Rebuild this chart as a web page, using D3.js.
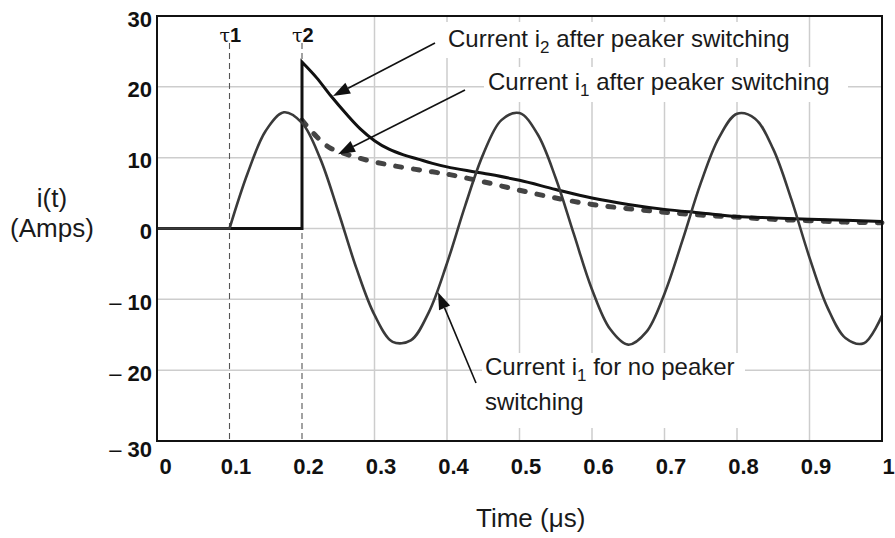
<!DOCTYPE html>
<html>
<head>
<meta charset="utf-8">
<script src="https://cdn.jsdelivr.net/npm/d3@7"></script>
<style>
  html, body { margin: 0; padding: 0; background: #fff; }
  svg { display: block; }
</style>
</head>
<body>
<svg id="chart" width="895" height="538"></svg>
<script>
// axis ticks
const timeTicks = [0, 0.1, 0.2, 0.3, 0.4, 0.5, 0.6, 0.7, 0.8, 0.9, 1];
const currentTicks = [-30, -20, -10, 0, 10, 20, 30];

// switching instants
const tauTimes = [0.1, 0.2];
const tauNames = ["1", "2"];

// i1 with no peaker switching
const tNoPeaker = [0, 0.1, 0.1, 0.125, 0.15, 0.175, 0.2, 0.225, 0.25, 0.275, 0.3, 0.325, 0.35, 0.375,
  0.4, 0.425, 0.45, 0.475, 0.5, 0.525, 0.55, 0.575, 0.6, 0.625, 0.65, 0.675, 0.7, 0.725, 0.75,
  0.775, 0.8, 0.825, 0.85, 0.875, 0.9, 0.925, 0.95, 0.975, 1];
const iNoPeaker = [0, 0, 0, 7.8, 13.8, 16.4, 14.9, 9.9, 2.4, -5.6, -12.2, -16.0, -15.8, -11.8,
  -4.9, 3.2, 10.5, 15.3, 16.3, 13.3, 7.1, -0.8, -8.6, -14.2, -16.4, -14.6, -9.2, -1.6, 6.4,
  12.8, 16.2, 15.5, 11.2, 4.1, -4.1, -11.2, -15.5, -16.2, -12.3];

// i2 after peaker switching
const tI2 = [0, 0.2, 0.2, 0.22, 0.24, 0.26, 0.28, 0.3, 0.32, 0.34, 0.36, 0.38, 0.4, 0.45, 0.5,
  0.55, 0.6, 0.65, 0.7, 0.75, 0.8, 0.85, 0.9, 0.95, 1];
const iI2 = [0, 0, 23.5, 21.3, 18.7, 16.3, 14.1, 12.4, 11.2, 10.4, 9.8, 9.2, 8.7, 7.8, 6.8,
  5.5, 4.3, 3.4, 2.7, 2.2, 1.7, 1.5, 1.3, 1.15, 1.0];

// i1 after peaker switching
const tI1 = [0.2, 0.21, 0.22, 0.23, 0.24, 0.25, 0.27, 0.3, 0.335, 0.38, 0.404, 0.45, 0.5, 0.55,
  0.6, 0.65, 0.7, 0.75, 0.8, 0.85, 0.9, 0.95, 1];
const iI1 = [15.3, 14.1, 13.0, 12.0, 11.3, 10.9, 10.2, 9.4, 8.7, 8.0, 7.6, 6.6, 5.4, 4.3,
  3.4, 2.8, 2.3, 1.9, 1.6, 1.3, 1.1, 0.9, 0.8];

const FONT = "'Liberation Sans', Arial, Helvetica, sans-serif";

const svg = d3.select("#chart");
const x = d3.scaleLinear().domain([0, 1]).range([157, 882]);
const y = d3.scaleLinear().domain([-30, 30]).range([441, 16]);

// grid (the tau instants get dashed lines instead)
svg.append("g")
    .selectAll("line")
    .data(timeTicks.filter(t => t > 0 && t < 1 && !tauTimes.includes(t)))
    .join("line")
    .attr("x1", d => x(d)).attr("x2", d => x(d))
    .attr("y1", y(30)).attr("y2", y(-30))
    .attr("stroke", "#cdcdcd").attr("stroke-width", 1.5);

svg.append("g")
    .selectAll("line")
    .data(currentTicks.filter(v => v > -30 && v < 30))
    .join("line")
    .attr("x1", x(0)).attr("x2", x(1))
    .attr("y1", d => y(d)).attr("y2", d => y(d))
    .attr("stroke", "#cdcdcd").attr("stroke-width", 1.5);

// tau markers
svg.append("g")
    .selectAll("line")
    .data(tauTimes)
    .join("line")
    .attr("x1", d => x(d)).attr("x2", d => x(d))
    .attr("y1", 43).attr("y2", y(-30))
    .attr("stroke", "#555").attr("stroke-width", 1.1)
    .attr("stroke-dasharray", "6,4");

const tauText = svg.append("g")
    .selectAll("text")
    .data(tauTimes)
    .join("text")
    .attr("x", d => x(d) - 10)
    .attr("y", 42)
    .attr("fill", "#111");
tauText.append("tspan")
    .attr("font-family", "'DejaVu Serif', 'Liberation Serif', serif")
    .attr("font-size", 19)
    .text("\u03c4");
tauText.append("tspan")
    .attr("font-family", FONT)
    .attr("font-weight", "bold")
    .attr("font-size", 20)
    .text((d, k) => tauNames[k]);

// white boxes behind the annotations
const boxes = [[444, 22, 353, 36], [484, 67, 364, 35], [482, 353, 263, 75]];
svg.append("g")
    .selectAll("rect")
    .data(boxes)
    .join("rect")
    .attr("x", d => d[0]).attr("y", d => d[1])
    .attr("width", d => d[2]).attr("height", d => d[3])
    .attr("fill", "#fff");

// curves
const line = d3.line()
    .x(d => x(d[0]))
    .y(d => y(d[1]))
    .curve(d3.curveCatmullRom.alpha(0.5));

// split at repeated times so the jumps stay straight
const seriesPath = pts => {
    const runs = [[pts[0]]];
    for (let k = 1; k < pts.length; k++) {
        if (pts[k][0] === pts[k - 1][0]) runs.push([]);
        runs[runs.length - 1].push(pts[k]);
    }
    return runs.map((r, k) => {
        const d = line(r);
        return k ? "L" + d.slice(1) : d;
    }).join("");
};
const toPoints = (ts, vs) => ts.map((t, k) => [t, vs[k]]);

svg.append("path")
    .attr("d", seriesPath(toPoints(tI1, iI1)))
    .attr("fill", "none")
    .attr("stroke", "#444")
    .attr("stroke-width", 5)
    .attr("stroke-linecap", "round")
    .attr("stroke-dasharray", "6,12");

svg.append("path")
    .attr("d", seriesPath(toPoints(tI2, iI2)))
    .attr("fill", "none")
    .attr("stroke", "#111")
    .attr("stroke-width", 3);

svg.append("path")
    .attr("d", seriesPath(toPoints(tNoPeaker, iNoPeaker)))
    .attr("fill", "none")
    .attr("stroke", "#3a3a3a")
    .attr("stroke-width", 2.6);

// frame
svg.append("rect")
    .attr("x", x(0)).attr("y", y(30))
    .attr("width", x(1) - x(0)).attr("height", y(-30) - y(30))
    .attr("fill", "none")
    .attr("stroke", "#111")
    .attr("stroke-width", 2);

// axes
const xAxis = svg.append("g")
    .attr("transform", `translate(0,${y(-30)})`)
    .call(d3.axisBottom(x).tickValues(timeTicks).tickSize(0).tickFormat(d => String(d)));
xAxis.select(".domain").remove();
xAxis.selectAll("text")
    .attr("y", 33).attr("dy", null)
    .attr("dx", d => d === 0 ? 8 : 6)
    .attr("fill", "#111")
    .attr("font-family", FONT)
    .attr("font-weight", "bold")
    .attr("font-size", 22);

const yAxis = svg.append("g")
    .attr("transform", `translate(${x(0)},0)`)
    .call(d3.axisLeft(y).tickValues(currentTicks).tickSize(0).tickPadding(5).tickFormat(d => Math.abs(d)));
yAxis.select(".domain").remove();
yAxis.selectAll("text")
    .attr("dy", d => d === -30 ? 15 : 10)
    .attr("fill", "#111")
    .attr("font-family", FONT)
    .attr("font-weight", "bold")
    .attr("font-size", 22)
    .each(function (d) {
        if (d >= 0) return;
        const t = d3.select(this).text("");
        t.append("tspan").attr("font-weight", "normal").text("\u2013\u00a0");
        t.append("tspan").text(Math.abs(d));
    });

// axis titles
svg.append("text")
    .attr("x", 52).attr("y", 207)
    .attr("text-anchor", "middle")
    .attr("font-family", FONT).attr("font-size", 26).attr("fill", "#1a1a1a")
    .text("i(t)");
svg.append("text")
    .attr("x", 52).attr("y", 237)
    .attr("text-anchor", "middle")
    .attr("font-family", FONT).attr("font-size", 26).attr("fill", "#1a1a1a")
    .text("(Amps)");
svg.append("text")
    .attr("x", 476).attr("y", 527)
    .attr("font-family", FONT).attr("font-size", 26).attr("fill", "#1a1a1a")
    .text("Time (\u03bcs)");

// annotations: text position, subscript, rest, arrow start and target in data units
const notes = [
    { x: 448, y: 47, pre: "Current i", sub: "2", post: " after peaker switching", from: [435, 43], to: [0.2428, 18.7] },
    { x: 488, y: 90, pre: "Current i", sub: "1", post: " after peaker switching", from: [465, 90], to: [0.2497, 10.5] },
    { x: 485, y: 375, pre: "Current i", sub: "1", post: " for no peaker", from: [476, 383], to: [0.3876, -9.0] }
];

notes.forEach(n => {
    const t = svg.append("text")
        .attr("x", n.x).attr("y", n.y)
        .attr("font-family", FONT).attr("font-size", 24).attr("fill", "#1a1a1a");
    t.append("tspan").text(n.pre);
    t.append("tspan").attr("font-size", 17).attr("dy", 6).text(n.sub);
    t.append("tspan").attr("dy", -6).text(n.post);

    const tip = [x(n.to[0]), y(n.to[1])];
    const dx = tip[0] - n.from[0];
    const dy = tip[1] - n.from[1];
    const len = Math.sqrt(dx * dx + dy * dy);
    const ux = dx / len, uy = dy / len;
    const headLen = 17, headW = 6;
    const bx = tip[0] - ux * headLen, by = tip[1] - uy * headLen;

    svg.append("line")
        .attr("x1", n.from[0]).attr("y1", n.from[1])
        .attr("x2", bx).attr("y2", by)
        .attr("stroke", "#111").attr("stroke-width", 1.6);
    svg.append("path")
        .attr("d", `M${tip[0]},${tip[1]}L${bx - uy * headW},${by + ux * headW}L${bx + uy * headW},${by - ux * headW}Z`)
        .attr("fill", "#111");
});

svg.append("text")
    .attr("x", 485).attr("y", 410)
    .attr("font-family", FONT).attr("font-size", 24).attr("fill", "#1a1a1a")
    .text("switching");
</script>
</body>
</html>
